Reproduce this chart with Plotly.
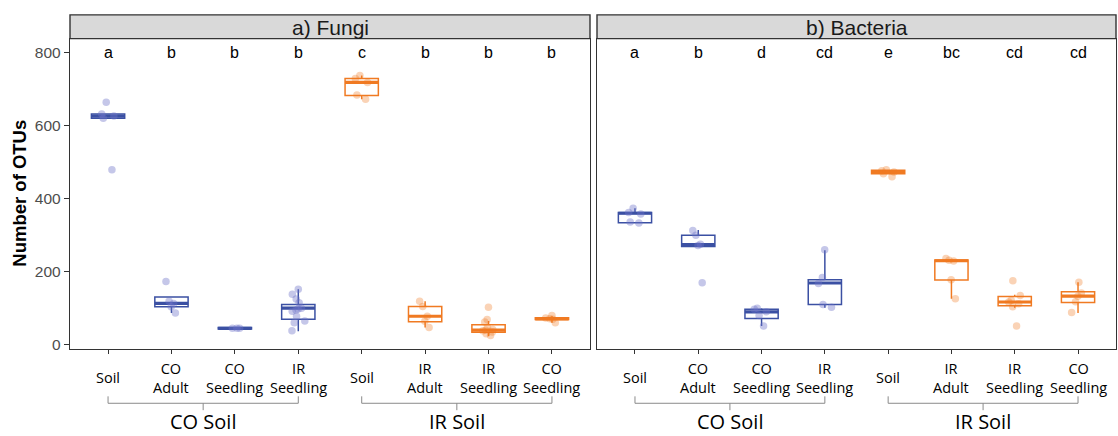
import plotly.graph_objects as go

W, H = 1118, 436

# ---------------- data ----------------
tick_labels = ["Soil", "CO<br>Adult", "CO<br>Seedling", "IR<br>Seedling",
               "Soil", "IR<br>Adult", "IR<br>Seedling", "CO<br>Seedling"]
soil_groups = ["CO Soil", "IR Soil"]
panel_titles = ["a) Fungi", "b) Bacteria"]

fungi_letters = ["a", "b", "b", "b", "c", "b", "b", "b"]
fungi_q1 = [620, 104, 43, 70, 682, 63, 34, 69]
fungi_median = [626, 113, 45, 100, 718, 78, 40, 71]
fungi_q3 = [632, 131, 47, 110, 729, 105, 55, 74]
fungi_lower = [620, 87, 43, 37, 672, 47, 24, 60]
fungi_upper = [632, 131, 47, 152, 737, 119, 65, 78]
fungi_points = [
    [664, 632, 626, 620, 479],
    [173, 119, 113, 104, 87],
    [45, 45, 45],
    [152, 138, 125, 115, 100, 98, 95, 92, 78, 65, 60, 38],
    [737, 729, 718, 684, 672],
    [119, 105, 78, 64, 47],
    [103, 69, 62, 48, 42, 40, 38, 35, 30, 25],
    [80, 73, 71, 70, 60],
]

bact_letters = ["a", "b", "d", "cd", "e", "bc", "cd", "cd"]
bact_q1 = [334, 269, 72, 110, 468, 177, 107, 116]
bact_median = [360, 274, 90, 169, 473, 230, 117, 133]
bact_q3 = [362, 300, 97, 178, 478, 232, 132, 145]
bact_lower = [334, 269, 51, 101, 466, 126, 101, 87]
bact_upper = [374, 314, 100, 259, 479, 232, 137, 171]
bact_points = [
    [374, 362, 358, 336, 333],
    [313, 300, 275, 272, 170],
    [100, 97, 90, 80, 51],
    [260, 184, 168, 110, 103],
    [479, 476, 473, 468, 460],
    [236, 231, 229, 178, 126],
    [175, 135, 122, 117, 112, 104, 51],
    [171, 142, 133, 118, 88],
]

# ---------------- styling ----------------
BLUE = "#3B50A3"
ORANGE = "#F07A22"
BLUE_PT = "rgba(110,115,200,0.40)"
ORANGE_PT = "rgba(240,122,34,0.33)"
AXC = "#333333"

def px_x(p):
    return p / W

def px_y(p):
    return (H - p) / H

panels = [
    dict(x0=70, x1=590, xa="x", ya="y", letters=fungi_letters, q1=fungi_q1, med=fungi_median,
         q3=fungi_q3, lo=fungi_lower, hi=fungi_upper, pts=fungi_points, title=panel_titles[0]),
    dict(x0=597, x1=1116, xa="x2", ya="y2", letters=bact_letters, q1=bact_q1, med=bact_median,
         q3=bact_q3, lo=bact_lower, hi=bact_upper, pts=bact_points, title=panel_titles[1]),
]

fig = go.Figure()
positions = list(range(1, 9))

for p in panels:
    for idx, (col, ptcol) in enumerate([(BLUE, BLUE_PT), (ORANGE, ORANGE_PT)]):
        sl = slice(idx * 4, idx * 4 + 4)
        xs = positions[sl]
        # box
        fig.add_trace(go.Box(
            x=xs, q1=p["q1"][sl], median=p["med"][sl], q3=p["q3"][sl],
            lowerfence=p["lo"][sl], upperfence=p["hi"][sl],
            boxpoints=False, line=dict(color=col, width=1.5), fillcolor="white",
            whiskerwidth=0, xaxis=p["xa"], yaxis=p["ya"], showlegend=False,
        ))
        # thick median
        m = p["med"][sl]
        fig.add_trace(go.Box(
            x=xs, q1=m, median=m, q3=m, lowerfence=m, upperfence=m,
            boxpoints=False, line=dict(color=col, width=3.2), fillcolor="rgba(0,0,0,0)",
            whiskerwidth=0, xaxis=p["xa"], yaxis=p["ya"], showlegend=False,
        ))
        # jittered points
        px_list, py_list = [], []
        for pos, vals in zip(xs, p["pts"][sl]):
            px_list += [pos] * len(vals)
            py_list += vals
        fig.add_trace(go.Box(
            x=px_list, y=py_list, boxpoints="all", jitter=0.45, pointpos=0,
            line=dict(width=0, color="rgba(0,0,0,0)"), fillcolor="rgba(0,0,0,0)",
            marker=dict(color=ptcol, size=7.5, line=dict(width=0)),
            xaxis=p["xa"], yaxis=p["ya"], showlegend=False, hoverinfo="y",
        ))

ybot, ytop = px_y(352), px_y(39)
strip_top = px_y(15)

common_x = dict(range=[0.4, 8.6], tickvals=positions, ticktext=[""] * 8, ticks="outside",
                ticklen=4, tickwidth=1.2, tickcolor=AXC, showline=True, mirror=True,
                linecolor=AXC, linewidth=1.4, showgrid=False, zeroline=False)
common_y = dict(range=[-11, 838], showline=True, mirror=True, linecolor=AXC, linewidth=1.4,
                showgrid=False, zeroline=False, domain=[ybot, ytop])

fig.update_layout(
    width=W, height=H, margin=dict(l=0, r=0, t=0, b=0),
    paper_bgcolor="white", plot_bgcolor="white", boxmode="overlay", boxgap=0.25,
    xaxis=dict(domain=[px_x(70), px_x(590)], anchor="y", **common_x),
    xaxis2=dict(domain=[px_x(597), px_x(1116)], anchor="y2", **common_x),
    yaxis=dict(anchor="x", tickvals=[0, 200, 400, 600, 800], ticks="outside", ticklen=5,
               tickwidth=1.2, tickcolor=AXC,
               tickfont=dict(family="Liberation Sans", size=15.5, color="#4d4d4d"), **common_y),
    yaxis2=dict(anchor="x2", showticklabels=False, ticks="", **common_y),
)

shapes = []
annotations = []
for p in panels:
    xa = p["xa"]
    # strip
    shapes.append(dict(type="rect", xref="paper", yref="paper", x0=px_x(p["x0"]), x1=px_x(p["x1"]),
                       y0=ytop, y1=strip_top, fillcolor="#d9d9d9", line=dict(color=AXC, width=1.4)))
    annotations.append(dict(text=p["title"], xref="paper", yref="paper",
                            x=(px_x(p["x0"]) + px_x(p["x1"])) / 2, y=px_y(27.5),
                            xanchor="center", yanchor="middle", showarrow=False,
                            font=dict(family="Liberation Sans", size=21, color="#1a1a1a")))
    # significance letters
    for pos, let in zip(positions, p["letters"]):
        annotations.append(dict(text=let, xref=xa, yref=p["ya"], x=pos, y=800,
                                xanchor="center", yanchor="middle", showarrow=False,
                                font=dict(family="Liberation Sans", size=16, color="black")))
    # tick labels
    for pos, lab in zip(positions, tick_labels):
        annotations.append(dict(text=lab, xref=xa, yref="paper", x=pos, y=px_y(381),
                                xanchor="center", yanchor="middle", showarrow=False,
                                font=dict(family="Open Sans", size=14.5, color="black")))
    # brackets
    for gi, gname in enumerate(soil_groups):
        a, b = positions[gi * 4], positions[gi * 4 + 3]
        c = (a + b) / 2
        lc = dict(color="#8a8a8a", width=1)
        shapes.append(dict(type="line", xref=xa, yref="paper", x0=a, x1=a, y0=px_y(400), y1=px_y(407), line=lc))
        shapes.append(dict(type="line", xref=xa, yref="paper", x0=b, x1=b, y0=px_y(400), y1=px_y(407), line=lc))
        shapes.append(dict(type="line", xref=xa, yref="paper", x0=a, x1=b, y0=px_y(407), y1=px_y(407), line=lc))
        shapes.append(dict(type="line", xref=xa, yref="paper", x0=c, x1=c, y0=px_y(407), y1=px_y(414), line=lc))
        annotations.append(dict(text=gname, xref=xa, yref="paper", x=c, y=0,
                                xanchor="center", yanchor="bottom", showarrow=False,
                                height=19, borderpad=0, valign="middle",
                                font=dict(family="Open Sans", size=20, color="black")))

annotations.append(dict(text="<b>Number of OTUs</b>", xref="paper", yref="paper",
                        x=px_x(20), y=px_y(195.5), textangle=-90, xanchor="center", yanchor="middle",
                        showarrow=False, font=dict(family="Liberation Sans", size=18.5, color="black")))

fig.update_layout(shapes=shapes, annotations=annotations)
fig.write_html("out.html", config={"displayModeBar": False},
               post_script="document.body.style.margin='0px';document.body.style.overflow='hidden';")
